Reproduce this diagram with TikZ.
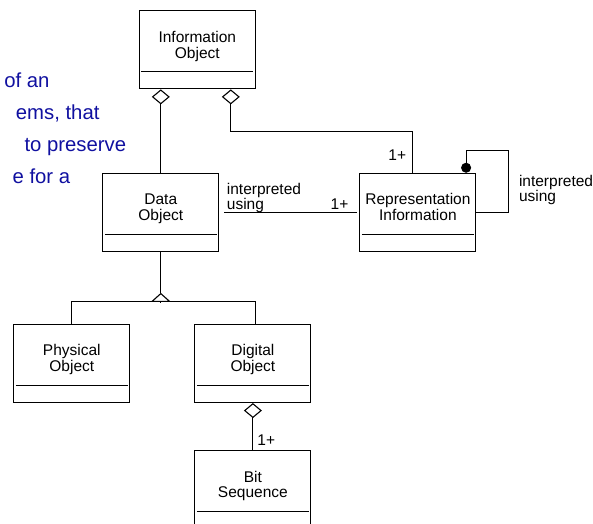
\documentclass[tikz,border=0pt]{standalone}
\usepackage{fontspec}
\setmainfont{Liberation Sans}
\usepackage{xcolor}
\usetikzlibrary{arrows.meta, positioning, calc}
\definecolor{slideblue}{RGB}{16,16,160}
\newcommand{\clsname}[1]{\raisebox{3pt}[\height][\depth]{\begin{tabular}{@{}c@{}}#1\end{tabular}}}

\begin{document}
\begin{tikzpicture}[x=1pt, y=-1pt, line width=1.1pt,
    font=\fontsize{15.5}{15.5}\selectfont,
    cls/.style={draw, fill=white, minimum width=116pt, minimum height=78pt, inner sep=0pt},
    lbl/.style={inner sep=0pt, align=left, font=\fontsize{15.5}{12}\selectfont},
    agg/.style={-{Diamond[open, length=15pt, width=18pt]}},
    gen/.style={-{Triangle[open, length=9pt, width=20pt]}},
    slide/.style={text=slideblue, inner sep=0pt, anchor=base east, font=\fontsize{20.3}{24}\selectfont}]
  \useasboundingbox (0,0) rectangle (593,523);
  % slide text behind the diagram
  \node[slide] (para1) at (50,87) {of an};
  \node[slide] (para2) at (100,119) {ems, that};
  \node[slide] (para3) at (126.7,151) {to preserve};
  \node[slide] (para4) at (70.7,183) {e for a};
  % classes
  \node[cls] (info) at (197.3,49.8) {\clsname{Information\\Object}};
  \node[cls] (data) at (160.8,212.3) {\clsname{Data\\Object}};
  \node[cls, right=140pt of data] (rep) {\clsname{Representation\\Information}};
  \node[cls] (phys) at (71.8,363.5) {\clsname{Physical\\Object}};
  \node[cls, right=64pt of phys] (dig) {\clsname{Digital\\Object}};
  \node[cls, below=47pt of dig] (bit) {\clsname{Bit\\Sequence}};
  \foreach \n in {info, data, rep, phys, dig, bit}
    \draw ([shift={(2.5pt,17.5pt)}]\n.south west) -- ([shift={(-2.5pt,17.5pt)}]\n.south east);
  % aggregations
  \draw[agg] (data.north) -- (data.north |- info.south);
  \draw[agg] ([xshift=-5pt]rep.north) node[lbl, anchor=base east, xshift=-6.3pt, yshift=12.3pt] {1+}
    -- ++(0,-41.5) -| ([xshift=33.5pt]info.south);
  \draw[agg] (bit.north) node[lbl, anchor=base west, xshift=4pt, yshift=5pt] {1+} -- (dig.south);
  % association
  \draw[shorten <=5pt, shorten >=2pt] (data.east) node[lbl, anchor=south west, xshift=7pt, yshift=-1pt] {interpreted\\using}
    -- (rep.west) node[lbl, anchor=base east, xshift=-10.4pt, yshift=3pt] {1+};
  \draw[-{Circle[length=10pt]}] (rep.east) -- ++(32,0) node[lbl, anchor=south west, xshift=10pt, yshift=6.6pt] {interpreted\\using}
    -- ++(0,-62) -| ([xshift=48.2pt]rep.north);
  % generalisation
  \coordinate[below=41pt of data.south] (apex);
  \coordinate[below=9pt of apex] (fork);
  \draw (data.south) -- (apex);
  \draw[gen] (fork) -- (apex);
  \draw (phys.north) |- (fork) -| ([xshift=2.8pt]dig.north);
\end{tikzpicture}
\end{document}
